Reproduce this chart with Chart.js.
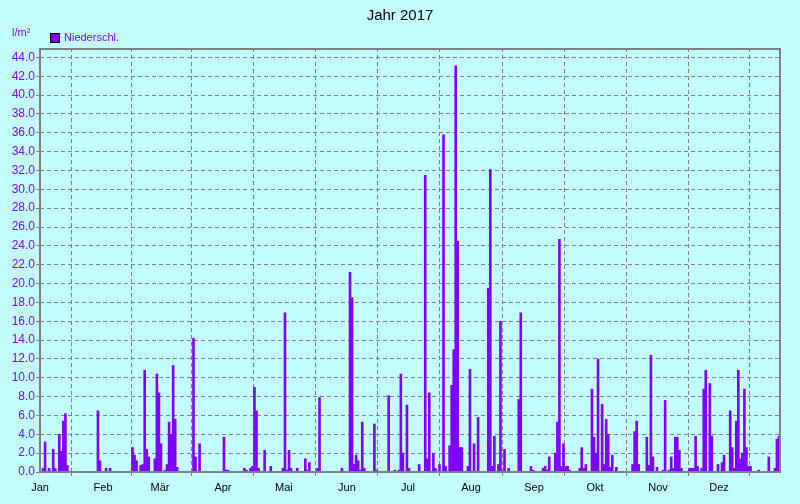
<!DOCTYPE html>
<html lang="de">
<head>
<meta charset="utf-8">
<title>Jahr 2017</title>
<script src="https://cdn.jsdelivr.net/npm/chart.js@4.4.0/dist/chart.umd.min.js"></script>
<style>
  html, body { margin: 0; padding: 0; background: #c4ffff; }
  canvas { display: block; }
</style>
</head>
<body>
<canvas id="chart" width="800" height="504"></canvas>
<script>
// Niederschlag pro Tag in l/m², Jahr 2017 (ein Wert je Tag)
const jan = [0, 0.4, 3.2, 0, 0.4, 0, 2.4, 0.4, 0, 4.0, 2.2, 5.4, 6.2, 0.7, 0, 0, 0, 0, 0, 0, 0, 0, 0, 0, 0, 0, 0, 0, 6.5, 1.2, 0];
const feb = [0, 0.4, 0, 0.4, 0, 0, 0, 0, 0, 0, 0, 0, 0, 0, 2.6, 1.8, 1.2, 0, 0.7, 0.8, 10.8, 2.4, 1.6, 0, 0, 1.4, 10.4, 8.4];
const mar = [3.0, 0, 0.2, 0.8, 5.3, 4.0, 11.3, 5.6, 0.5, 0, 0, 0, 0, 0, 0, 0, 14.2, 1.6, 0, 3.0, 0, 0, 0, 0, 0, 0, 0, 0, 0, 0, 0];
const apr = [3.7, 0.2, 0.2, 0, 0, 0, 0, 0, 0, 0, 0.4, 0.2, 0, 0.4, 0.6, 9.0, 6.5, 0.4, 0, 0, 2.3, 0, 0, 0.6, 0, 0, 0, 0, 0, 0.4];
const mai = [16.9, 0.2, 2.3, 0.4, 0, 0, 0.4, 0, 0, 0, 1.4, 0.2, 1.0, 0, 0, 0, 0.4, 7.9, 0, 0, 0, 0, 0, 0, 0, 0, 0, 0, 0.4, 0, 0];
const jun = [0, 21.2, 18.5, 0.8, 1.8, 1.2, 0.2, 5.3, 0.4, 0, 0, 0, 0, 5.1, 0.2, 0, 0, 0, 0, 0, 8.1, 0, 0, 0.2, 0, 0.2, 10.4, 2.0, 0, 7.1];
const jul = [0.4, 0, 0, 0, 0, 0.8, 0, 0, 31.5, 1.4, 8.4, 0, 2.0, 0.4, 0, 0.8, 0, 35.8, 0.6, 0, 2.8, 9.2, 13.0, 43.1, 24.5, 2.6, 2.6, 0, 0, 0.6, 10.9];
const aug = [0, 3.0, 0, 5.8, 0, 0, 0, 0, 19.5, 32.1, 0.6, 3.8, 0, 0.8, 16.0, 0, 2.4, 0, 0.4, 0, 0, 0, 0, 7.7, 16.9, 0, 0, 0, 0, 0.6, 0.2];
const sep = [0, 0, 0, 0, 0.4, 0.6, 0.2, 1.6, 0, 0, 2.0, 5.3, 24.7, 0.6, 3.0, 0.6, 0.6, 0.2, 0, 0, 0, 0, 0.4, 2.6, 0.4, 0.8, 0, 0, 8.8, 3.7];
const okt = [2.0, 12.0, 0, 7.2, 0.8, 5.6, 4.0, 0.5, 1.8, 0, 0.5, 0, 0, 0, 0, 0, 0, 0, 0.8, 4.3, 5.4, 0.8, 0, 0, 0, 3.7, 0.7, 12.4, 1.6, 0, 0.5];
const nov = [0, 0, 0.2, 7.6, 0, 0.2, 1.6, 0.4, 3.7, 3.7, 2.3, 0.4, 0, 0, 0, 0.4, 0.4, 0.4, 3.8, 0.6, 0, 0.4, 8.8, 10.8, 0, 9.4, 3.8, 0, 0, 0.8];
const dez = [0, 1.0, 1.8, 0, 0, 6.5, 2.6, 0.4, 5.4, 10.8, 1.4, 2.0, 8.8, 2.6, 0.6, 0.6, 0, 0, 0, 0.2, 0, 0, 0, 0, 1.6, 0, 0, 0.4, 3.5, 3.8, 0];

const monthNames = ['Jan', 'Feb', 'Mär', 'Apr', 'Mai', 'Jun', 'Jul', 'Aug', 'Sep', 'Okt', 'Nov', 'Dez'];
const monthStarts = [0, 31, 59, 90, 120, 151, 181, 212, 243, 273, 304, 334];
const yTicks = [0, 2, 4, 6, 8, 10, 12, 14, 16, 18, 20, 22, 24, 26, 28, 30, 32, 34, 36, 38, 40, 42, 44];

const PURPLE = '#8000ff';
const GRID = '#808080';
const BG = '#c4ffff';
const FONT = '"Liberation Sans", Arial, sans-serif';

const rain = [].concat(jan, feb, mar, apr, mai, jun, jul, aug, sep, okt, nov, dez);
const points = rain.map((v, i) => ({ x: i + 0.5, y: v }));

/**
 * Hintergrund, Rahmen und Kopfzeile (Titel, Einheit, Legende)
 */
const framePlugin = {
  id: 'frame',
  beforeDraw(chart) {
    const { ctx, width, height } = chart;
    ctx.save();
    ctx.fillStyle = BG;
    ctx.fillRect(0, 0, width, height);
    ctx.restore();
  },
  afterDatasetsDraw(chart) {
    const ctx = chart.ctx;
    ctx.save();
    ctx.strokeStyle = GRID;
    ctx.lineWidth = 2;
    ctx.strokeRect(40, 49, 740, 423);
    ctx.restore();
  },
  afterDraw(chart) {
    const ctx = chart.ctx;
    ctx.save();
    ctx.textBaseline = 'middle';

    ctx.fillStyle = '#000';
    ctx.font = '15px ' + FONT;
    ctx.textAlign = 'center';
    ctx.fillText('Jahr 2017', 400, 16);

    ctx.textAlign = 'left';
    ctx.font = '11px ' + FONT;
    ctx.fillStyle = PURPLE;
    ctx.fillText('l/m²', 12, 33);

    ctx.fillRect(50, 33, 10, 10);
    ctx.strokeStyle = '#000';
    ctx.lineWidth = 1;
    ctx.strokeRect(50.5, 33.5, 9, 9);
    ctx.fillStyle = PURPLE;
    ctx.fillText('Niederschl.', 64, 38);
    ctx.restore();
  }
};

new Chart(document.getElementById('chart'), {
  type: 'bar',
  data: {
    datasets: [{
      label: 'Niederschl.',
      data: points,
      backgroundColor: PURPLE,
      borderWidth: 0,
      inflateAmount: 0.3,
      barPercentage: 1,
      categoryPercentage: 1
    }]
  },
  options: {
    responsive: false,
    animation: false,
    layout: { padding: { left: 0, right: 19, top: 48, bottom: 0 } },
    plugins: {
      legend: { display: false },
      title: { display: false },
      tooltip: { enabled: false }
    },
    scales: {
      x: {
        type: 'linear',
        offset: false,
        min: 0,
        max: 364.5,
        afterBuildTicks: scale => {
          scale.ticks = monthStarts.map(v => ({ value: v }));
        },
        afterFit: scale => { scale.height = 32; },
        grid: { color: GRID, lineWidth: 1, tickLength: 4, tickColor: GRID, tickBorderDash: [] },
        border: { display: false, dash: [4, 3] },
        ticks: {
          autoSkip: false,
          maxRotation: 0,
          padding: 5,
          color: '#000',
          font: { family: FONT, size: 11 },
          callback: v => monthNames[monthStarts.indexOf(v)]
        }
      },
      y: {
        min: 0,
        max: 45,
        afterBuildTicks: scale => {
          scale.ticks = yTicks.map(v => ({ value: v }));
        },
        afterFit: scale => { scale.width = 40; },
        grid: { color: GRID, lineWidth: 1, tickLength: 4, tickColor: GRID, tickBorderDash: [] },
        border: { display: false, dash: [4, 3] },
        ticks: {
          autoSkip: false,
          padding: 1,
          color: PURPLE,
          font: { family: FONT, size: 12 },
          callback: v => v.toFixed(1)
        }
      }
    }
  },
  plugins: [framePlugin]
});
</script>
</body>
</html>
